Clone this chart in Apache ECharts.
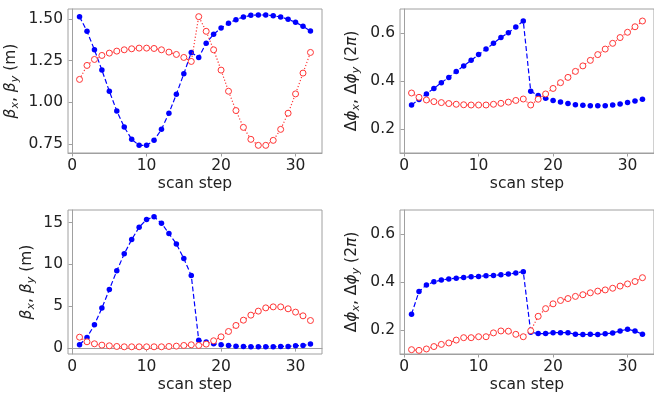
<!doctype html>
<html>
<head>
<meta charset="utf-8">
<title>beta scan</title>
<style>
  html, body { margin: 0; padding: 0; background: #fff; }
  #main { width: 654px; height: 394px; }
</style>
</head>
<body>
<div id="main"></div>
<script src="https://cdn.jsdelivr.net/npm/echarts@6.0.0/dist/echarts.min.js"></script>
<script>
// scan steps
var steps = [1,2,3,4,5,6,7,8,9,10,11,12,13,14,15,16,17,18,19,20,21,22,23,24,25,26,27,28,29,30,31,32];

// top left: beta (m)
var betaXTop = [1.514,1.426,1.315,1.193,1.066,0.948,0.851,0.777,0.741,0.741,0.771,0.837,0.934,1.048,1.171,1.299,
                1.269,1.355,1.408,1.446,1.474,1.496,1.512,1.522,1.524,1.524,1.520,1.512,1.498,1.480,1.456,1.428];
var betaYTop = [1.137,1.221,1.257,1.281,1.295,1.307,1.315,1.321,1.325,1.325,1.323,1.315,1.301,1.287,1.269,1.245,
                1.514,1.426,1.315,1.193,1.066,0.950,0.849,0.777,0.741,0.741,0.771,0.837,0.934,1.050,1.175,1.299];

// top right: phase advance (2pi)
var phiXTop = [0.300,0.323,0.346,0.369,0.393,0.415,0.440,0.463,0.486,0.510,0.533,0.557,0.581,0.601,0.625,0.650,
               0.357,0.340,0.328,0.319,0.312,0.306,0.301,0.299,0.297,0.297,0.297,0.300,0.304,0.310,0.317,0.324];
var phiYTop = [0.350,0.332,0.321,0.314,0.310,0.306,0.303,0.301,0.300,0.300,0.300,0.303,0.307,0.312,0.319,0.325,
               0.300,0.324,0.346,0.369,0.393,0.415,0.440,0.463,0.486,0.510,0.533,0.557,0.581,0.603,0.626,0.650];

// bottom left: beta (m)
var betaXBot = [0.40,1.27,2.79,4.78,7.00,9.23,11.26,12.97,14.44,15.36,15.68,14.92,13.69,12.45,10.70,8.67,
                0.95,0.72,0.52,0.40,0.32,0.24,0.20,0.16,0.16,0.16,0.16,0.20,0.20,0.28,0.32,0.48];
var betaYBot = [1.31,0.76,0.52,0.36,0.28,0.20,0.16,0.16,0.16,0.16,0.16,0.16,0.20,0.24,0.32,0.40,
                0.32,0.48,0.88,1.35,1.99,2.71,3.34,3.94,4.42,4.81,4.93,4.93,4.70,4.30,3.86,3.30];

// bottom right: phase advance (2pi)
var phiXBot = [0.266,0.360,0.388,0.401,0.408,0.413,0.416,0.419,0.422,0.423,0.426,0.427,0.430,0.433,0.438,0.443,
               0.191,0.185,0.185,0.189,0.189,0.189,0.182,0.181,0.182,0.181,0.184,0.188,0.196,0.203,0.196,0.182];
var phiYBot = [0.118,0.115,0.121,0.131,0.140,0.146,0.158,0.168,0.168,0.172,0.172,0.188,0.196,0.195,0.182,0.172,
               0.197,0.257,0.289,0.309,0.323,0.331,0.340,0.347,0.355,0.362,0.367,0.374,0.383,0.392,0.402,0.418];

var xTicks = [0, 10, 20, 30];
var betaTopTicks = [0.75, 1.00, 1.25, 1.50];
var betaBotTicks = [0, 5, 10, 15];
var phiTicks = [0.2, 0.4, 0.6];

var FONT = 'DejaVu Sans';
var TXT = '#222';
var EDGE = '#a0a0a0';
var BLUE = '#0000ff';
var RED = '#ff3535';

function pairs(ys) {
  var out = [];
  for (var i = 0; i < steps.length; i++) out.push([steps[i], ys[i]]);
  return out;
}

var richName = {
  n: { fontFamily: FONT, fontSize: 15.5, color: TXT, lineHeight: 20 },
  i: { fontFamily: FONT, fontSize: 15.5, color: TXT, fontStyle: 'italic', lineHeight: 20 },
  s: { fontFamily: FONT, fontSize: 11, color: TXT, fontStyle: 'italic', lineHeight: 12, verticalAlign: 'bottom' }
};
var betaName = '{i|β}{s|x}{n|, }{i|β}{s|y}{n| (m)}';
var phiName = '{n|Δ}{i|ϕ}{s|x}{n|, Δ}{i|ϕ}{s|y}{n| (2}{i|π}{n|)}';

function xAxis(idx) {
  return {
    type: 'value', gridIndex: idx, min: -0.55, max: 33.55,
    name: 'scan step', nameLocation: 'middle', nameGap: 23,
    nameTextStyle: { fontFamily: FONT, fontSize: 15.5, color: TXT },
    axisLine: { show: true, lineStyle: { color: EDGE, width: 1 } },
    axisTick: { show: true, length: 3.5, customValues: xTicks, lineStyle: { color: EDGE } },
    axisLabel: { customValues: xTicks, fontFamily: FONT, fontSize: 15.5, color: TXT, margin: 5 },
    splitLine: { show: false }
  };
}

function yAxis(idx, min, max, ticks, dec, name, gap) {
  return {
    type: 'value', gridIndex: idx, min: min, max: max,
    name: name, nameLocation: 'middle', nameGap: gap, nameRotate: 90,
    nameTextStyle: { rich: richName },
    axisLine: { show: true, lineStyle: { color: EDGE, width: 1 } },
    axisTick: { show: true, length: 3.5, customValues: ticks, lineStyle: { color: EDGE } },
    axisLabel: {
      customValues: ticks, fontFamily: FONT, fontSize: 15.5, color: TXT, margin: 5,
      formatter: function (v) { return v.toFixed(dec); }
    },
    splitLine: { show: false }
  };
}

function blueSeries(idx, ys) {
  return {
    type: 'line', xAxisIndex: idx, yAxisIndex: idx, data: pairs(ys),
    symbol: 'circle', symbolSize: 5.5,
    itemStyle: { color: BLUE },
    lineStyle: { color: BLUE, width: 1.2, type: [5, 2.5] },
    z: 3
  };
}

function redSeries(idx, ys) {
  return {
    type: 'line', xAxisIndex: idx, yAxisIndex: idx, data: pairs(ys),
    symbol: 'circle', symbolSize: 6,
    itemStyle: { color: '#fff', borderColor: RED, borderWidth: 1 },
    lineStyle: { color: RED, width: 1.2, type: [1.2, 2] },
    z: 4
  };
}

var gridBox = { show: true, borderColor: EDGE, borderWidth: 1, backgroundColor: 'transparent' };

var chart = echarts.init(document.getElementById('main'));
chart.setOption({
  animation: false,
  backgroundColor: '#fff',
  grid: [
    Object.assign({ left: 68, top: 9, width: 254, height: 144 }, gridBox),
    Object.assign({ left: 400, top: 9, width: 256, height: 144 }, gridBox),
    Object.assign({ left: 68, top: 210, width: 254, height: 144 }, gridBox),
    Object.assign({ left: 400, top: 210, width: 256, height: 144 }, gridBox)
  ],
  xAxis: [xAxis(0), xAxis(1), xAxis(2), xAxis(3)],
  yAxis: [
    yAxis(0, 0.695, 1.56, betaTopTicks, 2, betaName, 47),
    yAxis(1, 0.1, 0.7, phiTicks, 1, phiName, 38),
    yAxis(2, -0.7, 16.5, betaBotTicks, 0, betaName, 31),
    yAxis(3, 0.1, 0.7, phiTicks, 1, phiName, 38)
  ],
  series: [
    blueSeries(0, betaXTop), redSeries(0, betaYTop),
    blueSeries(1, phiXTop), redSeries(1, phiYTop),
    blueSeries(2, betaXBot), redSeries(2, betaYBot),
    blueSeries(3, phiXBot), redSeries(3, phiYBot)
  ]
});
</script>
</body>
</html>
